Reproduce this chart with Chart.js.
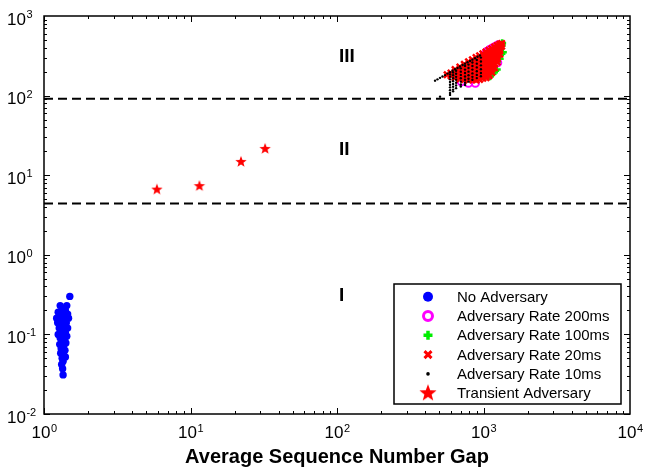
<!DOCTYPE html>
<html>
<head>
<meta charset="utf-8">
<script src="https://cdn.jsdelivr.net/npm/chart.js@4/dist/chart.umd.min.js"></script>
<style>
  html, body { margin: 0; padding: 0; background: #fff; }
  #wrap { width: 648px; height: 476px; }
</style>
</head>
<body>
<div id="wrap"><canvas id="chart" width="648" height="476"></canvas></div>
<script>
// values: [gap, y]
const seriesNames = ["No Adversary", "Adversary Rate 200ms", "Adversary Rate 100ms",
                     "Adversary Rate 20ms", "Adversary Rate 10ms", "Transient Adversary"];

const noAdversary = [
    [1.50,0.30],[1.29,0.23],[1.43,0.23],
    [1.25,0.19],[1.33,0.19],[1.40,0.20],[1.45,0.18],[1.36,0.21],
    [1.22,0.16],[1.30,0.165],[1.38,0.155],[1.47,0.16],[1.34,0.17],
    [1.24,0.14],[1.32,0.135],[1.42,0.14],[1.36,0.125],[1.28,0.15],
    [1.27,0.12],[1.45,0.12],[1.31,0.11],[1.40,0.105],[1.34,0.115],
    [1.25,0.10],[1.35,0.098],[1.43,0.095],
    [1.29,0.09],[1.38,0.085],[1.33,0.08],[1.41,0.078],
    [1.28,0.075],[1.36,0.07],[1.31,0.066],[1.39,0.063],
    [1.30,0.058],[1.36,0.055],[1.33,0.05],[1.40,0.052],
    [1.35,0.046],[1.32,0.042],[1.34,0.037],[1.35,0.031]
];

const rate200ms = [
    [705,149],[790,143],[880,143],[1250,258],[1050,358],[1100,377],
    [1150,395],[1200,414],[1260,434],[1000,250],[1120,300]
];

const rate100ms = [
    [1340,455],[1330,425],[1355,350],[1325,335],[1290,290],[1231,212],
    [1200,205],[1150,190],[1290,400],[1107,175]
];

const rate20ms = [
    [565,183],[600,192],[600,178],
    [640,212],[640,196],[640,180],[640,168],
    [690,229],[690,210],[690,192],[690,175],[690,162],
    [740,247],[740,226],[740,206],[740,188],[740,172],[740,158],
    [790,265],[790,242],[790,220],[790,200],[790,182],[790,168],[790,157],
    [840,282],[840,258],[840,234],[840,212],[840,192],[840,174],[840,158],
    [890,300],[890,274],[890,248],[890,225],[890,204],[890,185],[890,168],[890,157],
    [940,317],[940,290],[940,263],[940,238],[940,215],[940,195],[940,176],[940,160],
    [990,334],[990,305],[990,277],[990,251],[990,227],[990,205],[990,185],[990,166],
    [1040,352],[1040,321],[1040,292],[1040,264],[1040,239],[1040,216],[1040,195],[1040,176],[1040,168],
    [1090,370],[1090,337],[1090,306],[1090,277],[1090,250],[1090,226],[1090,204],[1090,185],[1090,178],
    [1140,388],[1140,353],[1140,320],[1140,290],[1140,262],[1140,237],[1140,214],[1140,195],
    [1190,406],[1190,370],[1190,336],[1190,304],[1190,274],[1190,248],[1190,224],
    [1240,424],[1240,386],[1240,350],[1240,318],[1240,288],[1240,264],
    [1290,441],[1290,402],[1290,365],[1290,332],
    [1330,450],[1330,418]
];

const rate10ms = [
    [467,154],[485,160],[505,167],[525,174],[546,181],[568,189],[591,197],[615,205],
    [639,214],[665,222],[691,232],[720,242],[748,252],[778,262],[809,272],[840,283],
    [875,295],[910,307],[946,319],
    [591,185],[591,173],[591,160],[591,148],[591,137],[591,127],[591,117],[591,108],[591,102],
    [620,195],[620,180],[620,165],[620,152],[620,140],[620,129],[620,119],[620,113],
    [650,205],[650,188],[650,172],[650,158],[650,145],[650,134],[650,124],
    [700,220],[700,200],[700,182],[700,165],[700,150],[700,138],[700,130],
    [748,235],[748,212],[748,192],[748,174],[748,158],[748,145],[748,136],
    [790,245],[790,222],[790,200],[790,180],[790,163],[790,150],
    [840,260],[840,235],[840,212],[840,190],[840,172],[840,158],
    [900,280],[900,252],[900,226],[900,202],[900,182],[900,166],
    [960,300],[960,268],[960,240],[960,214],[960,192],[960,175],
    [505,97]
];

const transient = [[5.9,6.6],[11.5,7.3],[22.1,14.7],[32.3,21.4]];

const boundaryLevels = [4.4, 91];
const regionNames  = ["I", "II", "III"];
const regionLevels = [0.31, 21, 311];
const regionLabelX = 103;

const xTickExps = [0, 1, 2, 3, 4];
const yTickExps = [-2, -1, 0, 1, 2, 3];

const FONT = "'Liberation Sans', Arial, Helvetica, sans-serif";
const pts = arr => arr.map(([x, y]) => ({ x, y }));

function makeStar(r) {
    const s = Math.ceil(r * 2 + 2);
    const c = document.createElement("canvas");
    c.width = s; c.height = s;
    const g = c.getContext("2d");
    g.translate(s / 2, s / 2);
    g.beginPath();
    for (let i = 0; i < 10; i++) {
        const rr = i % 2 ? r * 0.42 : r;
        const a = -Math.PI / 2 + i * Math.PI / 5;
        g.lineTo(rr * Math.cos(a), rr * Math.sin(a));
    }
    g.closePath();
    g.fillStyle = "#ff0000";
    g.fill();
    return c;
}
const starSmall = makeStar(6);
const starBig   = makeStar(9);

const datasets = [
    { label: seriesNames[0], data: pts(noAdversary), pointStyle: "circle", pointRadius: 3.7,
      backgroundColor: "#0000ff", borderColor: "#0000ff", pointBorderWidth: 0, order: 6 },
    { label: seriesNames[1], data: pts(rate200ms), pointStyle: "circle", pointRadius: 3.6,
      backgroundColor: "rgba(0,0,0,0)", borderColor: "#ff00ff", pointBorderWidth: 2, order: 5 },
    { label: seriesNames[2], data: pts(rate100ms), pointStyle: "cross", pointRadius: 4,
      borderColor: "#00ee00", pointBorderWidth: 2.5, order: 4 },
    { label: seriesNames[3], data: pts(rate20ms), pointStyle: "crossRot", pointRadius: 4.5,
      borderColor: "#ff0000", pointBorderWidth: 2.5, order: 3 },
    { label: seriesNames[4], data: pts(rate10ms), pointStyle: "circle", pointRadius: 1.2,
      backgroundColor: "#000", borderColor: "#000", pointBorderWidth: 0, order: 2 },
    { label: seriesNames[5], data: pts(transient), pointStyle: starSmall, order: 1 }
];
boundaryLevels.forEach(v => datasets.push({
    label: "", data: [{ x: 1, y: v }, { x: 1e4, y: v }], showLine: true, pointRadius: 0,
    borderColor: "#000", borderWidth: 2, borderDash: [9, 5], order: 7
}));

function drawPow(ctx, x, y, exp, align) {
    const base = "10", sup = String(exp);
    ctx.font = `17px ${FONT}`;
    const wb = ctx.measureText(base).width;
    ctx.font = `11px ${FONT}`;
    const ws = ctx.measureText(sup).width;
    let left = align === "center" ? x - (wb + ws) / 2 : x;
    ctx.textAlign = "left";
    ctx.textBaseline = "alphabetic";
    ctx.font = `17px ${FONT}`;
    ctx.fillText(base, left, y);
    ctx.font = `11px ${FONT}`;
    ctx.fillText(sup, left + wb + 0.5, y - 6.5);
}

const frame = {
    id: "frame",
    afterDatasetsDraw(chart) {
        const { ctx, chartArea: a, scales: { x, y } } = chart;
        ctx.save();
        ctx.strokeStyle = "#000";
        ctx.fillStyle = "#000";
        ctx.lineWidth = 1;
        ctx.beginPath();
        for (let e = 0; e < 4; e++) for (let m = 1; m <= 9; m++) {
            const px = Math.round(x.getPixelForValue(m * 10 ** e)) + 0.5;
            const len = m === 1 ? 6 : 3;
            ctx.moveTo(px, a.bottom); ctx.lineTo(px, a.bottom - len);
            ctx.moveTo(px, a.top);    ctx.lineTo(px, a.top + len);
        }
        for (let e = -2; e < 3; e++) for (let m = 1; m <= 9; m++) {
            const py = Math.round(y.getPixelForValue(m * 10 ** e)) + 0.5;
            const len = m === 1 ? 6 : 3;
            ctx.moveTo(a.left, py);  ctx.lineTo(a.left + len, py);
            ctx.moveTo(a.right, py); ctx.lineTo(a.right - len, py);
        }
        ctx.stroke();
        ctx.lineWidth = 1.5;
        ctx.strokeRect(a.left, a.top, a.right - a.left, a.bottom - a.top);

        xTickExps.forEach(e => drawPow(ctx, x.getPixelForValue(10 ** e), a.bottom + 24, e, "center"));
        yTickExps.forEach(e => drawPow(ctx, 7, y.getPixelForValue(10 ** e) + 8.5, e, "left"));

        ctx.font = `bold 19px ${FONT}`;
        ctx.textAlign = "left";
        ctx.textBaseline = "middle";
        regionNames.forEach((t, i) =>
            ctx.fillText(t, x.getPixelForValue(regionLabelX), y.getPixelForValue(regionLevels[i])));
        ctx.restore();
    },
    afterDraw(chart) {
        const ctx = chart.ctx;
        const L = { left: 394, top: 284, right: 621, bottom: 404, markX: 428, textX: 457, row0: 296.7, rowH: 19.3 };
        ctx.save();
        ctx.fillStyle = "#fff";
        ctx.fillRect(L.left, L.top, L.right - L.left, L.bottom - L.top);
        ctx.strokeStyle = "#000";
        ctx.lineWidth = 1.5;
        ctx.strokeRect(L.left, L.top, L.right - L.left, L.bottom - L.top);
        seriesNames.forEach((name, i) => {
            const cy = L.row0 + i * L.rowH, cx = L.markX;
            ctx.beginPath();
            if (i === 0) {
                ctx.fillStyle = "#0000ff";
                ctx.arc(cx, cy, 5, 0, Math.PI * 2); ctx.fill();
            } else if (i === 1) {
                ctx.strokeStyle = "#ff00ff"; ctx.lineWidth = 3;
                ctx.arc(cx, cy, 4.5, 0, Math.PI * 2); ctx.stroke();
            } else if (i === 2) {
                ctx.strokeStyle = "#00ee00"; ctx.lineWidth = 3.5;
                ctx.moveTo(cx - 4.5, cy); ctx.lineTo(cx + 4.5, cy);
                ctx.moveTo(cx, cy - 4.5); ctx.lineTo(cx, cy + 4.5); ctx.stroke();
            } else if (i === 3) {
                ctx.strokeStyle = "#ff0000"; ctx.lineWidth = 3;
                ctx.moveTo(cx - 3.5, cy - 3.5); ctx.lineTo(cx + 3.5, cy + 3.5);
                ctx.moveTo(cx + 3.5, cy - 3.5); ctx.lineTo(cx - 3.5, cy + 3.5); ctx.stroke();
            } else if (i === 4) {
                ctx.fillStyle = "#000";
                ctx.arc(cx, cy, 1.8, 0, Math.PI * 2); ctx.fill();
            } else {
                ctx.drawImage(starBig, cx - starBig.width / 2, cy - starBig.height / 2);
            }
            ctx.fillStyle = "#000";
            ctx.font = `15px ${FONT}`;
            ctx.textAlign = "left";
            ctx.textBaseline = "middle";
            ctx.fillText(name, L.textX, cy + 1);
        });
        ctx.restore();
    }
};

new Chart(document.getElementById("chart"), {
    type: "scatter",
    data: { datasets },
    options: {
        responsive: false,
        animation: false,
        events: [],
        layout: { padding: { top: 16, right: 18, left: 0, bottom: 0 } },
        plugins: { legend: { display: false }, tooltip: { enabled: false } },
        scales: {
            x: {
                type: "logarithmic", min: 1, max: 1e4,
                ticks: { display: false }, grid: { display: false }, border: { display: false },
                title: { display: true, text: "Average Sequence Number Gap", color: "#000",
                         font: { family: FONT, size: 20, weight: "bold" }, padding: { top: 0, bottom: 7 } },
                afterFit: s => { s.height = 62; }
            },
            y: {
                type: "logarithmic", min: 0.01, max: 1000,
                ticks: { display: false }, grid: { display: false }, border: { display: false },
                afterFit: s => { s.width = 44; }
            }
        }
    },
    plugins: [frame]
});
</script>
</body>
</html>
